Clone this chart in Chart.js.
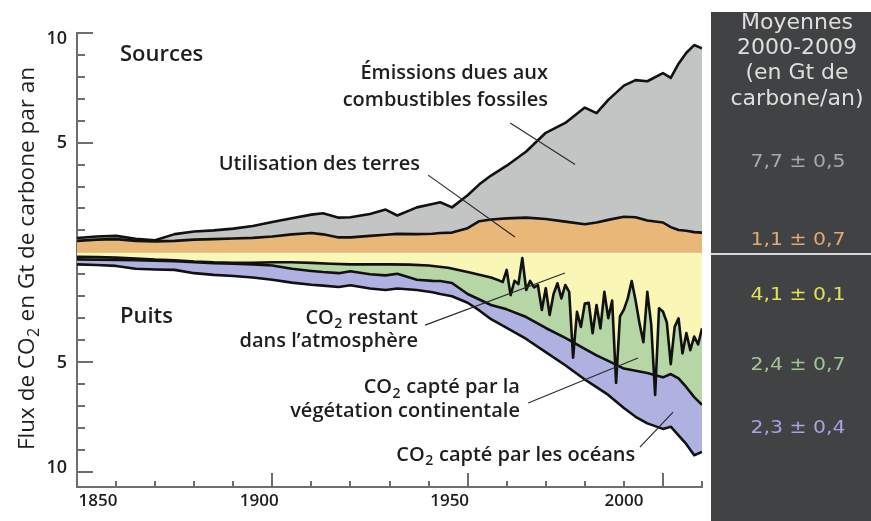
<!DOCTYPE html>
<html>
<head>
<meta charset="utf-8">
<script src="https://cdn.jsdelivr.net/npm/chart.js@4.4.1/dist/chart.umd.min.js"></script>
<style>
  html, body { margin: 0; padding: 0; background: #fff; }
  #wrap { width: 871px; height: 521px; }
</style>
</head>
<body>
<div id="wrap"><canvas id="chart" width="871" height="521"></canvas></div>
<script>
// years used for the smooth outlines (sources and the two lower sink outlines)
const years = [1850, 1855, 1860, 1865, 1870, 1875, 1880, 1885, 1890, 1895,
  1900, 1905, 1910, 1913, 1917, 1920, 1925, 1929, 1932, 1937,
  1941, 1943, 1946, 1950, 1953, 1956, 1960, 1965, 1970, 1975,
  1980, 1983, 1986, 1990, 1993, 1996, 2000, 2002, 2004, 2006, 2008, 2010];

// top of the orange band (land use change), GtC/yr
const landUseTop = [0.52, 0.58, 0.6, 0.52, 0.5, 0.52, 0.58, 0.6, 0.63, 0.66,
  0.72, 0.82, 0.88, 0.82, 0.68, 0.68, 0.75, 0.8, 0.84, 0.83,
  0.85, 0.88, 0.9, 1.1, 1.42, 1.5, 1.55, 1.58, 1.52, 1.4,
  1.28, 1.36, 1.48, 1.62, 1.6, 1.45, 1.36, 1.15, 1.02, 0.98, 0.92, 0.9];

// top of the grey band (land use + fossil fuel emissions)
const emissionsTop = [0.65, 0.72, 0.75, 0.62, 0.55, 0.83, 0.95, 1.0, 1.08, 1.2,
  1.38, 1.55, 1.72, 1.78, 1.58, 1.6, 1.75, 1.95, 1.68, 2.05,
  2.2, 2.28, 2.05, 2.6, 3.1, 3.5, 3.95, 4.6, 5.45, 5.9,
  6.6, 6.35, 6.95, 7.6, 7.85, 7.8, 8.17, 7.95, 8.6, 9.1, 9.45, 9.3];

// bottom of the green band (atmosphere + land sink)
const landSinkBottom = [-0.32, -0.34, -0.35, -0.36, -0.38, -0.4, -0.45, -0.5, -0.52, -0.55,
  -0.6, -0.75, -0.85, -0.9, -0.95, -0.86, -1.0, -1.05, -0.98, -1.25,
  -1.3, -1.31, -1.4, -1.9, -2.15, -2.4, -2.6, -2.95, -3.45, -3.9,
  -4.4, -4.7, -4.95, -5.3, -5.4, -5.5, -5.7, -5.55, -5.75, -6.15, -6.6, -6.95];

// bottom of the purple band (atmosphere + land + ocean sinks)
const oceanBottom = [-0.55, -0.58, -0.62, -0.75, -0.78, -0.8, -0.95, -1.03, -1.08, -1.15,
  -1.25, -1.38, -1.48, -1.52, -1.58, -1.5, -1.65, -1.72, -1.65, -1.72,
  -1.82, -1.9, -2.0, -2.3, -2.65, -3.05, -3.45, -3.95, -4.55, -5.15,
  -5.8, -6.15, -6.5, -7.1, -7.5, -7.8, -8.05, -7.95, -8.35, -8.75, -9.25, -9.1];

// atmospheric growth (bottom of the yellow band), annual after 1958
const atmYears = [1850, 1855, 1860, 1865, 1870, 1875, 1880, 1885, 1890, 1895,
  1900, 1905, 1910, 1915, 1920, 1925, 1930, 1935, 1940, 1945,
  1950, 1953, 1956, 1958, 1959, 1960, 1961, 1962, 1963, 1964,
  1965, 1966, 1967, 1968, 1969, 1970, 1971, 1972, 1973, 1974,
  1975, 1976, 1977, 1978, 1979, 1980, 1981, 1982, 1983, 1984,
  1985, 1986, 1987, 1988, 1989, 1990, 1991, 1992, 1993, 1994,
  1995, 1996, 1997, 1998, 1999, 2000, 2001, 2002, 2003, 2004,
  2005, 2006, 2007, 2008, 2009, 2010];
const atmosphereBottom = [-0.2, -0.22, -0.24, -0.28, -0.33, -0.36, -0.42, -0.46, -0.48, -0.48,
  -0.45, -0.45, -0.48, -0.52, -0.55, -0.55, -0.55, -0.56, -0.6, -0.7,
  -0.9, -1.02, -1.15, -1.28, -1.35, -0.8, -1.95, -1.3, -1.45, -0.26,
  -1.72, -1.3, -1.6, -1.5, -2.63, -1.64, -2.86, -1.9, -1.41, -2.1,
  -1.49, -1.8, -4.8, -2.71, -3.4, -2.33, -2.3, -3.69, -2.4, -3.47,
  -1.8, -3.0, -2.2, -5.95, -2.92, -2.61, -2.1, -1.31, -2.2, -3.24,
  -4.1, -1.8, -3.3, -6.5, -2.55, -2.7, -3.2, -5.1, -3.4, -3.01,
  -4.61, -3.68, -4.46, -3.84, -4.2, -3.47];

// axis labels
const xTickLabels = [1850, 1900, 1950, 2000];
const yTickLabels = [10, 5, -5, -10];

// averages 2000-2009 shown in the side panel (GtC/yr)
const averages = [7.7, 1.1, 4.1, 2.4, 2.3];
const uncertainties = [0.5, 0.7, 0.1, 0.7, 0.4];

const FONT = '"Open Sans", Lato, sans-serif';
const PANEL_FONT = '"DejaVu Sans", Verdana, sans-serif';
const AXIS = '#6e6e6e';
const INK = '#1e1e1e';
const GREY = '#c3c4c4', ORANGE = '#e9b878', YELLOW = '#faf6b6', GREEN = '#b6d6a6', PURPLE = '#afb2e0';

// label placement (data units) and leader lines
const notes = [
  { text: 'Sources', year: 1861, value: 8.74, align: 'left', size: 22 },
  { text: 'Puits', year: 1861, value: -3.21, align: 'left', size: 22 },
  { text: 'Émissions dues aux', year: 1970.6, value: 7.9, align: 'right' },
  { text: 'combustibles fossiles', year: 1970.6, value: 6.67, align: 'right' },
  { text: 'Utilisation des terres', year: 1937.8, value: 3.75, align: 'right' },
  { text: 'CO_2 restant', year: 1937.3, value: -3.27, align: 'right' },
  { text: 'dans l\u2019atmosphère', year: 1937.3, value: -4.3, align: 'right' },
  { text: 'CO_2 capté par la', year: 1963.4, value: -6.43, align: 'right' },
  { text: 'végétation continentale', year: 1963.4, value: -7.5, align: 'right' },
  { text: 'CO_2 capté par les océans', year: 1992.9, value: -9.5, align: 'right' }
];
const leaders = [
  [[1960.9, 5.9], [1977.5, 4.0]],
  [[1939.9, 3.52], [1962.1, 0.7]],
  [[1939.1, -3.32], [1974.9, -0.94]],
  [[1965.5, -6.87], [1993.6, -4.82]],
  [[1994.1, -8.88], [2002.6, -7.29]]
];
const xLabelShift = [21, -13, -18, -39];
const yLabelShift = [6, 0, 1, -4];

const panelHead = ['Moyennes', '2000-2009', '(en Gt de', 'carbone/an)'];
const panelHeadY = [23, 48, 73.5, 99];
const panelRowY = [162.5, 241, 296, 366, 429];
const panelColors = ['#a9a9a9', '#e2a970', '#e4e05c', '#a2c692', '#a3a5e6'];

function pts(xs, ys) { return xs.map((x, i) => ({ x: x, y: ys[i] })); }
function fmt(v) { return v.toFixed(1).replace('.', ','); }

function drawRich(ctx, text, x, y, align, size, weight) {
  const main = weight + ' ' + size + 'px ' + FONT;
  const sub = weight + ' ' + Math.round(size * 0.7) + 'px ' + FONT;
  const pieces = text.split('_2');
  let w = 0;
  pieces.forEach((p, i) => {
    ctx.font = main; w += ctx.measureText(p).width;
    if (i < pieces.length - 1) { ctx.font = sub; w += ctx.measureText('2').width + 1; }
  });
  let cx = align === 'right' ? x - w : align === 'center' ? x - w / 2 : x;
  ctx.textAlign = 'left';
  ctx.textBaseline = 'alphabetic';
  pieces.forEach((p, i) => {
    ctx.font = main; ctx.fillText(p, cx, y); cx += ctx.measureText(p).width;
    if (i < pieces.length - 1) {
      ctx.font = sub; ctx.fillText('2', cx + 0.5, y + size * 0.22);
      cx += ctx.measureText('2').width + 1;
    }
  });
}

const decor = {
  id: 'decor',
  afterDraw(chart) {
    const ctx = chart.ctx;
    const xs = chart.scales.x, ys = chart.scales.y;
    const area = chart.chartArea;
    ctx.save();

    // inward tick marks
    ctx.strokeStyle = AXIS;
    ctx.lineWidth = 2;
    ys.ticks.forEach(t => {
      const v = t.value;
      if (!Number.isInteger(v) || v === 0) return;
      const len = v % 5 === 0 ? 16 : 8;
      const py = Math.round(ys.getPixelForValue(v));
      ctx.beginPath(); ctx.moveTo(area.left, py); ctx.lineTo(area.left + len, py); ctx.stroke();
    });
    for (let yr = 1850; yr <= 2010; yr += 10) {
      const len = yr % 50 === 0 ? 14 : 6;
      const px = Math.round(xs.getPixelForValue(yr));
      ctx.beginPath(); ctx.moveTo(px, area.bottom); ctx.lineTo(px, area.bottom - len); ctx.stroke();
    }

    // tick labels
    ctx.fillStyle = INK;
    ctx.font = '600 18px ' + FONT;
    ctx.textAlign = 'right';
    ctx.textBaseline = 'middle';
    yTickLabels.forEach((v, i) => {
      ctx.fillText(String(Math.abs(v)), area.left - 10, ys.getPixelForValue(v) + yLabelShift[i]);
    });
    ctx.font = '600 17px ' + FONT;
    ctx.textAlign = 'center';
    ctx.textBaseline = 'alphabetic';
    xTickLabels.forEach((yr, i) => {
      ctx.fillText(String(yr), xs.getPixelForValue(yr) + xLabelShift[i], area.bottom + 19);
    });

    // axis title
    ctx.save();
    ctx.translate(34, 258.5);
    ctx.rotate(-Math.PI / 2);
    drawRich(ctx, 'Flux de CO_2 en Gt de carbone par an', 0, 0, 'center', 22.5, '400');
    ctx.restore();

    // leader lines
    ctx.strokeStyle = '#2a2a2a';
    ctx.lineWidth = 1.2;
    leaders.forEach(l => {
      ctx.beginPath();
      ctx.moveTo(xs.getPixelForValue(l[0][0]), ys.getPixelForValue(l[0][1]));
      ctx.lineTo(xs.getPixelForValue(l[1][0]), ys.getPixelForValue(l[1][1]));
      ctx.stroke();
    });

    // labels
    ctx.fillStyle = INK;
    notes.forEach(n => {
      drawRich(ctx, n.text, xs.getPixelForValue(n.year), ys.getPixelForValue(n.value),
        n.align, n.size || 20, '600');
    });

    // side panel
    const W = chart.width, H = chart.height;
    ctx.fillStyle = '#414243';
    ctx.fillRect(711, 12, W - 711, H - 12);
    ctx.strokeStyle = '#d9d9d9';
    ctx.lineWidth = 2;
    const zy = Math.round(ys.getPixelForValue(0)) + 2;
    ctx.beginPath(); ctx.moveTo(711, zy); ctx.lineTo(W, zy); ctx.stroke();
    ctx.textAlign = 'center';
    ctx.textBaseline = 'middle';
    ctx.fillStyle = '#dedede';
    ctx.font = '22px ' + PANEL_FONT;
    panelHead.forEach((t, i) => ctx.fillText(t, 797, panelHeadY[i]));
    ctx.font = '17px ' + PANEL_FONT;
    averages.forEach((v, i) => {
      ctx.save();
      ctx.translate(798, panelRowY[i]);
      ctx.scale(1.2, 1);
      ctx.fillStyle = panelColors[i];
      ctx.fillText(fmt(v) + ' \u00b1 ' + fmt(uncertainties[i]), 0, 0);
      ctx.restore();
    });
    ctx.restore();
  }
};

new Chart(document.getElementById('chart'), {
  type: 'line',
  data: {
    datasets: [
      { label: 'Utilisation des terres', data: pts(years, landUseTop), fill: 'origin', backgroundColor: ORANGE },
      { label: 'Combustibles fossiles', data: pts(years, emissionsTop), fill: '-1', backgroundColor: GREY },
      { label: 'Atmosphère', data: pts(atmYears, atmosphereBottom), fill: 'origin', backgroundColor: YELLOW },
      { label: 'Végétation continentale', data: pts(years, landSinkBottom), fill: '-1', backgroundColor: GREEN },
      { label: 'Océans', data: pts(years, oceanBottom), fill: '-1', backgroundColor: PURPLE }
    ]
  },
  options: {
    responsive: false,
    animation: false,
    devicePixelRatio: 1,
    layout: { padding: { left: 0, top: 33, right: 169, bottom: 34 } },
    elements: {
      point: { radius: 0 },
      line: { borderColor: '#111', borderWidth: 2.6, tension: 0, borderJoinStyle: 'round' }
    },
    plugins: {
      legend: { display: false },
      tooltip: { enabled: false },
      filler: { drawTime: 'beforeDatasetsDraw' }
    },
    scales: {
      x: {
        type: 'linear', min: 1850, max: 2010,
        ticks: { display: false },
        grid: { display: false, drawTicks: false },
        border: { display: true, color: AXIS, width: 2 }
      },
      y: {
        min: -10.7, max: 10,
        ticks: { display: false, stepSize: 1 },
        grid: {
          drawTicks: false,
          lineWidth: 1.2,
          color: c => (c.tick && c.tick.value === 0 ? '#555' : 'rgba(0,0,0,0)')
        },
        border: { display: true, color: AXIS, width: 2 },
        afterFit: s => { s.width = 77; }
      }
    }
  },
  plugins: [decor]
});
</script>
</body>
</html>
